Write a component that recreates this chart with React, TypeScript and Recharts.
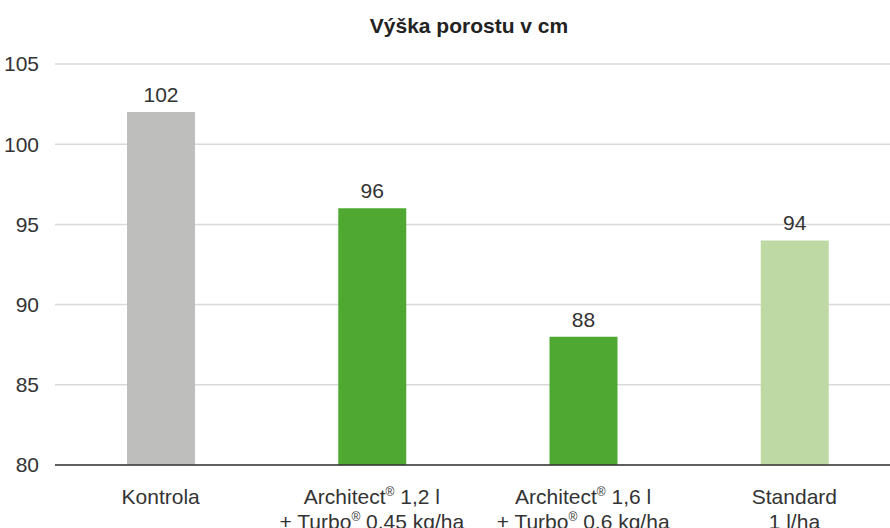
import { BarChart, Bar, XAxis, YAxis, CartesianGrid, Cell, LabelList } from 'recharts';

const FONT = '"Liberation Sans", Arial, Helvetica, sans-serif';
const INK = '#333333';

const categories = ['Kontrola', 'Architect 1,2 l', 'Architect 1,6 l', 'Standard'];
// each label line: [text, superscript?] parts
const labelLines: [string, boolean][][][] = [
  [[['Kontrola', false]]],
  [[['Architect', false], ['®', true], [' 1,2 l', false]], [['+ Turbo', false], ['®', true], [' 0.45 kg/ha', false]]],
  [[['Architect', false], ['®', true], [' 1,6 l', false]], [['+ Turbo', false], ['®', true], [' 0.6 kg/ha', false]]],
  [[['Standard', false]], [['1 l/ha', false]]],
];
const heights = [102, 96, 88, 94];
const colors = ['#bebebd', '#4fa832', '#bfd9a4', '#bfd9a4'];
const barColors = ['#bebebd', '#4fa832', '#4fa832', '#bfd9a4'];
const yTicks = [80, 85, 90, 95, 100, 105];

const data = categories.map((name, i) => ({ name, value: heights[i], idx: i }));

function CatTick({ x, y, payload }: { x?: number; y?: number; payload?: { value: string; index: number } }) {
  const i = categories.indexOf(payload?.value ?? '');
  const lines = labelLines[i] ?? [];
  return (
    <text x={x} y={(y ?? 0) + 39} textAnchor="middle" fill={INK} fontSize={21} fontFamily={FONT}>
      {lines.map((parts, li) => (
        <tspan key={li} x={x} dy={li === 0 ? 0 : 24.5}>
          {parts.map(([t, sup], pi) =>
            sup ? (
              <tspan key={pi} fontSize={12} baselineShift="65%">{t}</tspan>
            ) : (
              <tspan key={pi}>{t}</tspan>
            ),
          )}
        </tspan>
      ))}
    </text>
  );
}

export default function App() {
  return (
    <div style={{ position: 'fixed', left: 0, top: 0, width: 890, height: 528, overflow: 'hidden', background: '#fff' }}>
      <svg width={890} height={40} style={{ position: 'absolute', left: 0, top: 0 }}>
        <text x={469} y={33} textAnchor="middle" fontFamily={FONT} fontWeight="bold" fontSize={21} fill="#222">
          Výška porostu v cm
        </text>
      </svg>
      <BarChart width={900} height={528} data={data} margin={{ top: 64, right: 0, bottom: 0, left: 0 }}>
        <CartesianGrid stroke="#d9d9d9" strokeWidth={1.5} vertical={false} />
        <XAxis
          dataKey="name"
          height={63}
          interval={0}
          tickLine={false}
          tickSize={0}
          tickMargin={0}
          axisLine={{ stroke: INK, strokeWidth: 1.3 }}
          tick={<CatTick />}
        />
        <YAxis
          width={55}
          domain={[80, 105]}
          ticks={yTicks}
          allowDataOverflow
          axisLine={false}
          tickLine={false}
          tickSize={0}
          tickMargin={16}
          tick={{ fill: INK, fontSize: 21, fontFamily: FONT }}
        />
        <Bar dataKey="value" barSize={68} isAnimationActive={false}>
          {data.map((d) => (
            <Cell key={d.name} fill={barColors[d.idx]} />
          ))}
          <LabelList dataKey="value" position="top" offset={10} fill={INK} fontSize={21} fontFamily={FONT} />
        </Bar>
      </BarChart>
    </div>
  );
}
